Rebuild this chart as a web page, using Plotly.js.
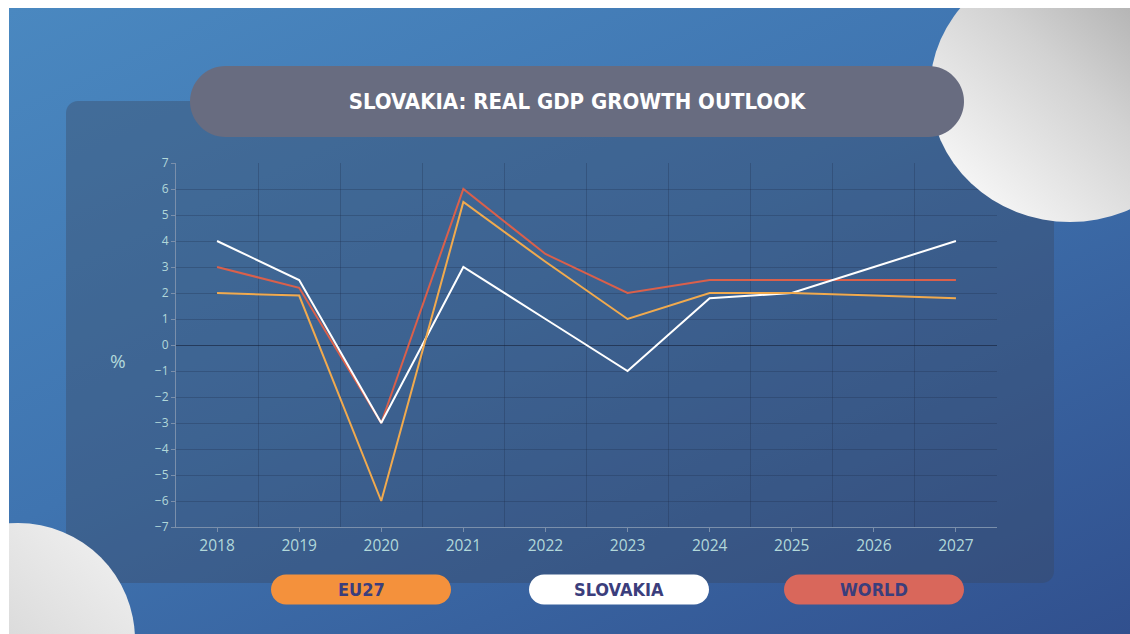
<!DOCTYPE html>
<html><head><meta charset="utf-8">
<script src="https://cdn.plot.ly/plotly-3.0.1.min.js"></script>
<style>
html,body{margin:0;padding:0;background:#ffffff;}
#wrap{position:absolute;left:9px;top:8px;width:1121px;height:626px;overflow:hidden;
 background:linear-gradient(155deg,#4a88c0 0%,#3f74b0 45%,#31508e 100%);}
#chart{width:1121px;height:626px;}
</style></head><body>
<div id="wrap"><div id="chart"></div></div>
<script>
// ---- data ----
const years = [2018, 2019, 2020, 2021, 2022, 2023, 2024, 2025, 2026, 2027];
const eu27 = [2, 1.9, -6, 5.5, 3.2, 1, 2, 2, 1.9, 1.8];
const slovakia = [4, 2.5, -3, 3, 1, -1, 1.8, 2, 3, 4];
const world = [3, 2.2, -3, 6, 3.5, 2, 2.5, 2.5, 2.5, 2.5];
const seriesNames = ['EU27', 'SLOVAKIA', 'WORLD'];
const yTickVals = [-7, -6, -5, -4, -3, -2, -1, 0, 1, 2, 3, 4, 5, 6, 7];
const titleText = 'SLOVAKIA: REAL GDP GROWTH OUTLOOK';
const yUnit = '%';

// ---- geometry helpers (screen px -> paper) ----
const W = 1121, H = 626, OX = 9, OY = 8;
const M = {l: 167, r: 133, t: 155, b: 107};
const PW = W - M.l - M.r, PH = H - M.t - M.b;
const px = x => (x - OX - M.l) / PW;
const py = y => (H - M.b - (y - OY)) / PH;

function roundPath(w, h, r) {
  const k = 0.5523 * r, x0 = -w / 2, x1 = w / 2, y0 = -h / 2, y1 = h / 2;
  return `M${x0 + r},${y0} L${x1 - r},${y0} C${x1 - r + k},${y0} ${x1},${y0 + r - k} ${x1},${y0 + r} ` +
    `L${x1},${y1 - r} C${x1},${y1 - r + k} ${x1 - r + k},${y1} ${x1 - r},${y1} ` +
    `L${x0 + r},${y1} C${x0 + r - k},${y1} ${x0},${y1 - r + k} ${x0},${y1 - r} ` +
    `L${x0},${y0 + r} C${x0},${y0 + r - k} ${x0 + r - k},${y0} ${x0 + r},${y0} Z`;
}
function boxShape(cx, cy, w, h, r, fill, layer) {
  return {type: 'path', xref: 'paper', yref: 'paper', xsizemode: 'pixel', ysizemode: 'pixel',
    xanchor: px(cx), yanchor: py(cy), path: roundPath(w, h, r), fillcolor: fill,
    line: {width: 0}, layer: layer};
}
function circleShape(cx, cy, rx, ry, fill) {
  return {type: 'circle', xref: 'paper', yref: 'paper', xsizemode: 'pixel', ysizemode: 'pixel',
    xanchor: px(cx), yanchor: py(cy), x0: -rx, x1: rx, y0: -ry, y1: ry,
    fillcolor: fill, line: {width: 0}, layer: 'above'};
}

const lineColors = {EU27: '#f1aa4e', SLOVAKIA: '#ffffff', WORLD: '#da604b'};
const pillColors = ['#f4913c', '#ffffff', '#d9675b'];
const pillCenters = [361, 619, 874];

const traces = [
  {x: years, y: world, name: 'WORLD', type: 'scatter', mode: 'lines', line: {color: lineColors.WORLD, width: 2}},
  {x: years, y: slovakia, name: 'SLOVAKIA', type: 'scatter', mode: 'lines', line: {color: lineColors.SLOVAKIA, width: 2}},
  {x: years, y: eu27, name: 'EU27', type: 'scatter', mode: 'lines', line: {color: lineColors.EU27, width: 2}}
];

const gridCol = 'rgba(28,42,72,0.28)';
const tickCol = '#b2d8da';

const shapes = [
  boxShape(560, 342, 988, 482, 12, 'rgba(58,68,92,0.36)', 'below'),
  circleShape(1070, 90, 140, 132, '#d0d0d0'),
  circleShape(18, 640, 117, 117, '#dcdcdc'),
  boxShape(577, 101.5, 774, 71, 35.5, '#686c80', 'above')
];
seriesNames.forEach((n, i) => shapes.push(boxShape(pillCenters[i], 589.5, 180, 30, 15, pillColors[i], 'above')));

const annotations = seriesNames.map((n, i) => ({
  text: '<b>' + n + '</b>', x: px(pillCenters[i]), y: py(589.5), xref: 'paper', yref: 'paper',
  xanchor: 'center', yanchor: 'middle', showarrow: false,
  font: {family: 'DejaVu Sans Condensed', size: 18, color: '#3b3e7c'}
}));
annotations.push({text: yUnit, x: px(118), y: py(361), xref: 'paper', yref: 'paper',
  xanchor: 'center', yanchor: 'middle', showarrow: false,
  font: {family: 'Open Sans', size: 19, color: tickCol}});

const layout = {
  width: W, height: H,
  margin: M,
  paper_bgcolor: 'rgba(0,0,0,0)', plot_bgcolor: 'rgba(0,0,0,0)',
  showlegend: false,
  title: {text: '<b>' + titleText + '</b>', xref: 'container', yref: 'container',
    x: (577 - OX) / W, y: 1 - (101.5 - OY) / H, xanchor: 'center', yanchor: 'middle',
    font: {family: 'DejaVu Sans Condensed', size: 22, color: '#ffffff'}},
  xaxis: {type: 'linear', range: [years[0] - 0.5, years[years.length - 1] + 0.5],
    tickmode: 'array', tickvals: years, ticktext: years.map(String),
    showgrid: false, zeroline: false, showline: true, linecolor: '#7a8fab', linewidth: 1,
    ticks: 'outside', ticklen: 4, tickcolor: '#7a8fab',
    tickfont: {family: 'Open Sans', size: 15.5, color: tickCol},
    minor: {tickmode: 'array', tickvals: years.slice(1).map(y => y - 0.5), showgrid: true,
      gridcolor: gridCol, gridwidth: 1, ticks: ''}},
  yaxis: {range: [yTickVals[0], yTickVals[yTickVals.length - 1]], tickmode: 'array', tickvals: yTickVals,
    showgrid: true, gridcolor: gridCol, gridwidth: 1,
    zeroline: true, zerolinecolor: 'rgba(22,32,55,0.6)', zerolinewidth: 1,
    showline: true, linecolor: '#7a8fab', linewidth: 1,
    ticks: 'outside', ticklen: 4, tickcolor: '#7a8fab',
    tickfont: {family: 'Open Sans', size: 12, color: tickCol}},
  shapes: shapes,
  annotations: annotations
};

Plotly.newPlot('chart', traces, layout, {staticPlot: true, displayModeBar: false}).then(gd => {
  const NS = 'http://www.w3.org/2000/svg';
  const defs = gd.querySelector('.main-svg defs');
  function grad(id, x1, y1, x2, y2, stops) {
    const g = document.createElementNS(NS, 'linearGradient');
    g.setAttribute('id', id);
    g.setAttribute('x1', x1); g.setAttribute('y1', y1); g.setAttribute('x2', x2); g.setAttribute('y2', y2);
    stops.forEach(s => {
      const st = document.createElementNS(NS, 'stop');
      st.setAttribute('offset', s[0]); st.setAttribute('stop-color', s[1]);
      g.appendChild(st);
    });
    defs.appendChild(g);
  }
  grad('gTR', '0.15', '0.9', '0.95', '0.1', [[0, '#f6f6f6'], [0.5, '#d2d2d2'], [1, '#a2a2a2']]);
  grad('gBL', '0.1', '0.9', '0.8', '0.1', [[0, '#c9c9c9'], [1, '#ececec']]);
  gd.querySelectorAll('.shapelayer path').forEach(p => {
    const idx = p.getAttribute('data-index');
    if (idx === '1') p.style.fill = 'url(#gTR)';
    if (idx === '2') p.style.fill = 'url(#gBL)';
  });
});
</script>
</body></html>
